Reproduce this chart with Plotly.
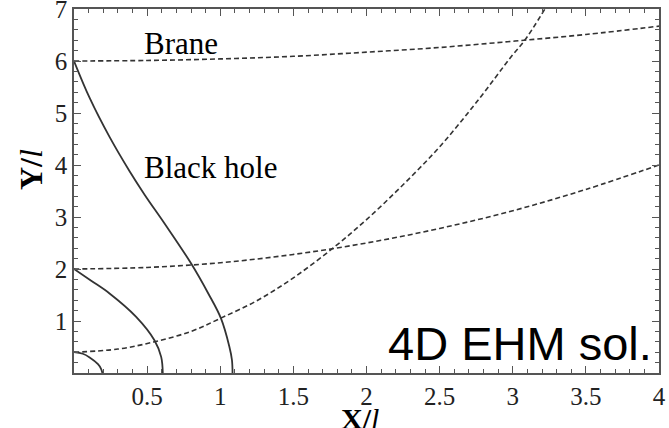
import plotly.graph_objects as go

# ---- data ----
brane1_x = [0, 0.5, 1, 1.5, 2, 2.5, 3, 3.5, 4]
brane1_y = [6.00, 6.01, 6.04, 6.09, 6.17, 6.26, 6.38, 6.51, 6.67]

brane2_x = [0, 0.5, 1, 1.5, 2, 2.5, 3, 3.5, 4]
brane2_y = [2.00, 2.03, 2.12, 2.28, 2.50, 2.78, 3.12, 3.53, 4.00]

brane3_x = [0, 0.3, 0.55, 0.8, 1.0, 1.25, 1.5, 1.77, 2.0, 2.25, 2.5, 2.75, 3.0, 3.08, 3.22]
brane3_y = [0.40, 0.46, 0.60, 0.80, 1.05, 1.39, 1.83, 2.40, 2.95, 3.62, 4.35, 5.20, 6.12, 6.39, 7.0]

bh_large_x = [0, 0.107, 0.243, 0.38, 0.485, 0.618, 0.80, 0.92, 1.005, 1.062, 1.08, 1.084]
bh_large_y = [6.0, 5.29, 4.54, 3.88, 3.42, 2.88, 2.11, 1.52, 1.05, 0.51, 0.25, 0.0]

bh_mid_x = [0, 0.12, 0.243, 0.425, 0.55, 0.596, 0.607]
bh_mid_y = [2.0, 1.77, 1.53, 1.08, 0.63, 0.31, 0.0]

bh_small_x = [0, 0.06, 0.107, 0.164, 0.185, 0.194]
bh_small_y = [0.40, 0.37, 0.30, 0.17, 0.08, 0.0]

x_ticks = [0.5, 1, 1.5, 2, 2.5, 3, 3.5, 4]
x_ticklabels = ["0.5", "1", "1.5", "2", "2.5", "3", "3.5", "4"]
y_ticks = [1, 2, 3, 4, 5, 6, 7]
y_ticklabels = ["1", "2", "3", "4", "5", "6", "7"]

# ---- figure ----
W, H = 669, 428
ML, MR, MT, MB = 74, 10, 9, 55
LINE = "#333333"
SERIF = "Liberation Serif, Times New Roman, serif"

fig = go.Figure()
for xs, ys in [(brane1_x, brane1_y), (brane2_x, brane2_y), (brane3_x, brane3_y)]:
    fig.add_trace(go.Scatter(x=xs, y=ys, mode="lines", line_shape="spline",
                             line=dict(color=LINE, width=1.6, dash="5px,3px"),
                             showlegend=False, hoverinfo="skip"))
for xs, ys in [(bh_large_x, bh_large_y), (bh_mid_x, bh_mid_y), (bh_small_x, bh_small_y)]:
    fig.add_trace(go.Scatter(x=xs, y=ys, mode="lines", line_shape="spline",
                             line=dict(color=LINE, width=1.8),
                             showlegend=False, hoverinfo="skip"))

axis_common = dict(showline=True, linecolor="#555555", linewidth=1.5, mirror="allticks",
                   ticks="inside", ticklen=7, tickwidth=1.2, tickcolor="#555555",
                   showgrid=False, zeroline=False, ticklabeloverflow="allow",
                   tickfont=dict(family=SERIF, size=25, color="#222222"))

fig.update_xaxes(range=[0, 4], tickvals=x_ticks, ticktext=x_ticklabels,
                 minor=dict(ticks="inside", dtick=0.1, ticklen=4, tickcolor="#555555", tickwidth=1),
                 **axis_common)
fig.update_yaxes(range=[0, 7], tickvals=y_ticks, ticktext=y_ticklabels,
                 minor=dict(ticks="inside", dtick=0.2, ticklen=4, tickcolor="#555555", tickwidth=1),
                 **axis_common)

pw = W - ML - MR
ph = H - MT - MB

def px(xp):
    return (xp - ML) / pw

def py(yp):
    return (H - MB - yp) / ph

annots = [
    dict(text="Brane", x=0.466, y=6.33, xref="x", yref="y", xanchor="left", yanchor="middle",
         font=dict(family=SERIF, size=31, color="black")),
    dict(text="Black hole", x=0.466, y=3.95, xref="x", yref="y", xanchor="left", yanchor="middle",
         font=dict(family=SERIF, size=31, color="black")),
    dict(text="4D EHM sol.", x=px(654), y=py(343), xref="paper", yref="paper",
         xanchor="right", yanchor="middle",
         font=dict(family="Liberation Sans, Arial, sans-serif", size=47, color="black")),
    dict(text="<b>X/</b><i>l</i>", x=px(360), y=py(418), xref="paper", yref="paper",
         xanchor="center", yanchor="middle",
         font=dict(family=SERIF, size=30, color="black")),
    dict(text="<b>Y/</b><i>l</i>", x=px(31), y=py(170), xref="paper", yref="paper",
         xanchor="center", yanchor="middle", textangle=-90,
         font=dict(family=SERIF, size=32, color="black")),
]
for a in annots:
    a["showarrow"] = False
    fig.add_annotation(**a)

fig.update_layout(width=W, height=H,
                  margin=dict(l=ML, r=MR, t=MT, b=MB, autoexpand=False),
                  plot_bgcolor="white", paper_bgcolor="white")

fig.write_html("out.html", config={"displayModeBar": False},
               post_script="document.body.style.margin='0px';document.body.style.overflow='hidden';")
